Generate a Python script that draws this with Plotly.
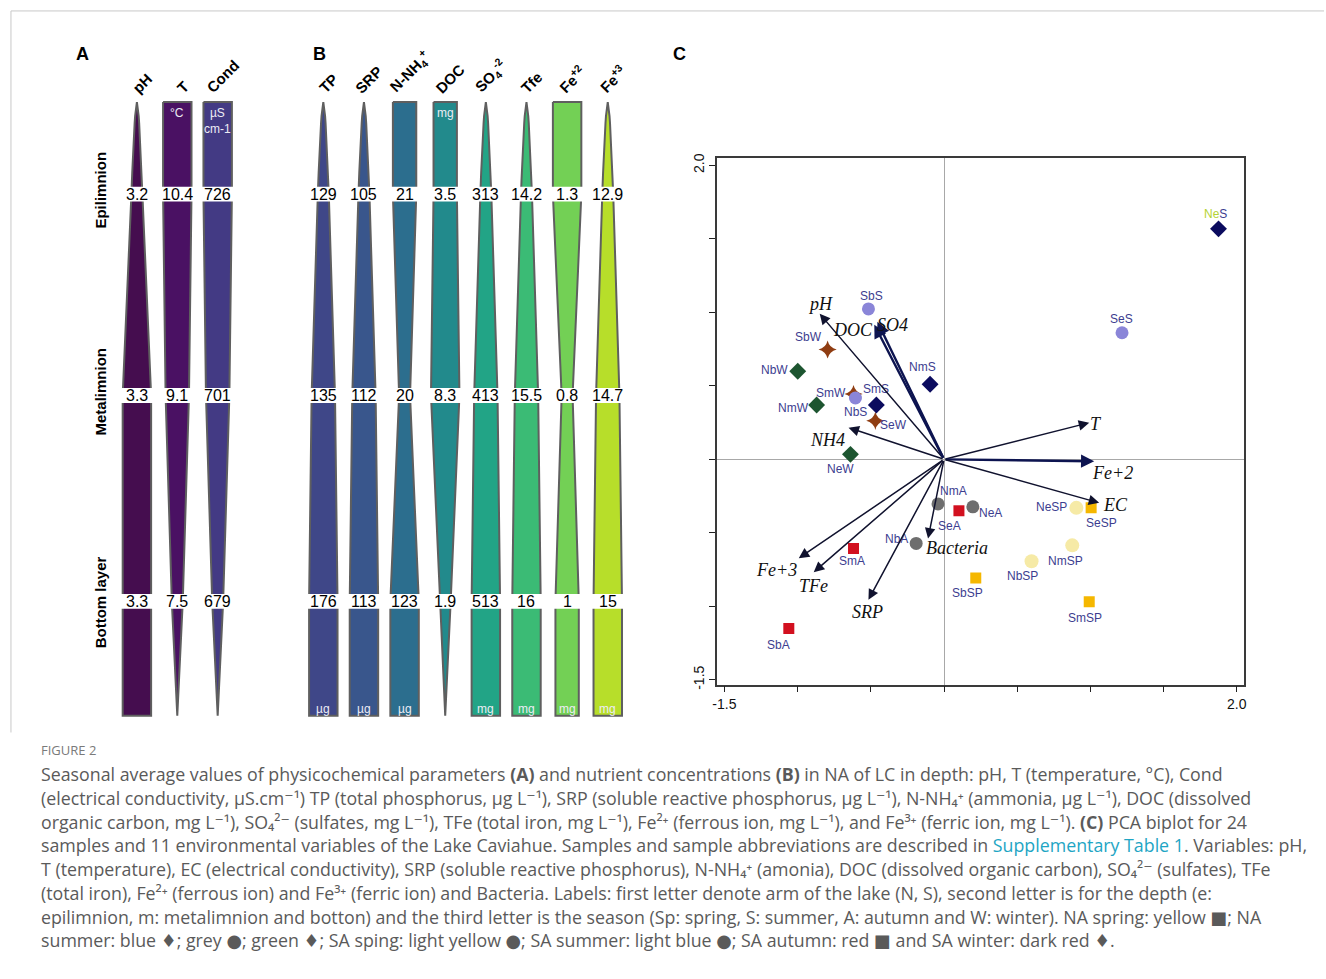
import plotly.graph_objects as go

W, H = 1326, 979

# ---------------- Panels A/B: seasonal averages by layer ----------------
layer_names = ["Epilimnion", "Metalimnion", "Bottom layer"]

ph_vals = [3.2, 3.3, 3.3]
temp_vals = [10.4, 9.1, 7.5]
cond_vals = [726, 701, 679]

tp_vals = [129, 135, 176]
srp_vals = [105, 112, 113]
nh4_vals = [21, 20, 123]
doc_vals = [3.5, 8.3, 1.9]
so4_vals = [313, 413, 513]
tfe_vals = [14.2, 15.5, 16]
fe2_vals = [1.3, 0.8, 1]
fe3_vals = [12.9, 14.7, 15]

phys_heads = ["pH", "T", "Cond"]
nutr_heads = ["TP", "SRP", "N-NH<sub>4</sub><sup>+</sup>", "DOC",
              "SO<sub>4</sub><sup>-2</sup>", "Tfe", "Fe<sup>+2</sup>", "Fe<sup>+3</sup>"]
phys_top_units = ["", "°C", "µS<br>cm-1"]
nutr_top_units = ["", "", "", "mg", "", "", "", ""]
nutr_bottom_units = ["µg", "µg", "µg", "", "mg", "mg", "mg", "mg"]

# ---------------- Panel C: PCA biplot ----------------
samples = ["NeS", "SeS", "SbS", "SbW", "NbW", "NmS", "SmW", "NbS", "SmS", "SeW", "NmW", "NeW",
           "NmA", "SeA", "NeA", "NbA", "SmA", "SbA", "SbSP", "NbSP", "NmSP", "NeSP", "SeSP", "SmSP"]
pc1 = [1.875, 1.216, -0.516, -0.795, -0.999, -0.095, -0.618, -0.605, -0.462, -0.469, -0.870, -0.639,
       -0.041, 0.102, 0.197, -0.190, -0.618, -1.060, 0.217, 0.598, 0.876, 0.904, 1.005, 0.992]
pc2 = [1.568, 0.861, 1.023, 0.747, 0.599, 0.511, 0.444, 0.417, 0.370, 0.262, 0.370, 0.034,
       -0.303, -0.350, -0.323, -0.572, -0.606, -1.151, -0.808, -0.693, -0.585, -0.330, -0.330, -0.969]
sample_group = ["NA summer", "SA summer", "SA summer", "SA winter", "NA winter", "NA summer",
                "SA winter", "SA summer", "NA summer", "SA winter", "NA winter", "NA winter",
                "NA autumn", "SA autumn", "NA autumn", "NA autumn", "SA autumn", "SA autumn",
                "NA spring", "SA spring", "SA spring", "SA spring", "NA spring", "NA spring"]

var_names = ["pH", "DOC", "SO4", "NH4", "T", "Fe+2", "EC", "Bacteria", "Fe+3", "TFe", "SRP"]
var_pc1 = [-0.849, -0.476, -0.455, -0.652, 0.992, 1.026, 1.060, -0.109, -0.992, -0.890, -0.516]
var_pc2 = [0.990, 0.916, 0.936, 0.215, 0.249, -0.013, -0.296, -0.539, -0.673, -0.768, -0.956]

# ---------------- styles ----------------
SANS = "Liberation Sans, Arial, sans-serif"
SERIF = "Liberation Serif, Times New Roman, serif"
CAPTION_FONT = "Open Sans, DejaVu Sans, sans-serif"
phys_colors = ["#450d4f", "#4a1163", "#433a84"]
nutr_colors = ["#3f4788", "#39568c", "#2c6e8e", "#228a8c", "#22a486", "#3bbb75", "#73d055", "#b7de2a"]
outline = "#5f5f5f"

group_style = {
    "SA winter": dict(color="#8f3d12", symbol="star-diamond", size=13),
    "NA winter": dict(color="#1d5530", symbol="diamond", size=13),
    "NA summer": dict(color="#0b0b5e", symbol="diamond", size=13),
    "SA summer": dict(color="#8a85d8", symbol="circle", size=13),
    "NA autumn": dict(color="#6e6e6e", symbol="circle", size=13),
    "SA autumn": dict(color="#d2101f", symbol="square", size=11),
    "SA spring": dict(color="#f6eaa6", symbol="circle", size=14),
    "NA spring": dict(color="#f5b700", symbol="square", size=11),
}
sample_label_shift = {
    "NeS": (-3, 15), "SeS": (-1, 14), "SbS": (3, 13), "SbW": (-19, 13), "NbW": (-23, 1),
    "NmS": (-8, 17), "SmW": (-23, 1), "NbS": (0, -14), "SmS": (0, 16), "SeW": (18, -4),
    "NmW": (-23, -3), "NeW": (-10, -15), "NmA": (15, 13), "SeA": (-9, -15), "NeA": (18, -6),
    "NbA": (-20, 4), "SmA": (-2, -13), "SbA": (-10, -16), "SbSP": (-8, -15), "NbSP": (-9, -15),
    "NmSP": (-7, -16), "NeSP": (-25, 1), "SeSP": (10, -15), "SmSP": (-4, -16),
}
var_label_shift = {
    "pH": (1, 10), "DOC": (-21, -5), "SO4": (15, -3), "NH4": (-21, -12), "T": (7, -1),
    "Fe+2": (18, -12), "EC": (16, -2), "Bacteria": (29, -9), "Fe+3": (-22, -12),
    "TFe": (0, -14), "SRP": (-1, -12),
}
thick_vars = {"DOC", "SO4", "Fe+2"}

fig = go.Figure()
annotations = []
shapes = []

# ---------------- depth profile columns (canvas axes x2/y2, pixel-like units) ----------------
y_top, y_end = 98, 718
y_rows = [191, 394.5, 602.5]
rank_width = [11, 23.5, 28.6]   # narrow / medium / wide by rank within a variable


def widths_from_values(vals):
    w = []
    for v in vals:
        greater = sum(1 for u in vals if u > v)
        w.append(rank_width[2 - greater])
    top = 0 if vals[0] == min(vals) and vals.count(min(vals)) == 1 else w[0]
    end = 0 if vals[2] == min(vals) and vals.count(min(vals)) == 1 else w[2]
    return [top] + w + [end]


def outline_path(cx, widths):
    ys = [y_top] + y_rows + [y_end]
    py, pw = [], []
    for k in range(4):
        y0, y1 = ys[k], ys[k + 1]
        w0, w1 = widths[k], widths[k + 1]
        curved = (k == 0 and w0 == 0)
        n = 14 if curved else 2
        for j in range(n):
            if k > 0 and j == 0:
                continue
            t = j / (n - 1)
            w = w1 * t ** 0.6 if curved else w0 + (w1 - w0) * t
            py.append(y0 + (y1 - y0) * t)
            pw.append(w)
    xs = [cx - w / 2 for w in pw] + [cx + w / 2 for w in reversed(pw)]
    yy = py + list(reversed(py))
    return xs + [xs[0]], yy + [yy[0]]


phys_sets = [ph_vals, temp_vals, cond_vals]
nutr_sets = [tp_vals, srp_vals, nh4_vals, doc_vals, so4_vals, tfe_vals, fe2_vals, fe3_vals]

columns = []
for i in range(3):
    columns.append(dict(cx=132.6 + i * 40.6, vals=phys_sets[i], head=phys_heads[i],
                        color=phys_colors[i], top=phys_top_units[i], bottom=""))
for i in range(8):
    columns.append(dict(cx=320 + i * 40.85, vals=nutr_sets[i], head=nutr_heads[i],
                        color=nutr_colors[i], top=nutr_top_units[i], bottom=nutr_bottom_units[i]))

for col in columns:
    xs, ys = outline_path(col["cx"], widths_from_values(col["vals"]))
    fig.add_trace(go.Scatter(x=xs, y=ys, xaxis="x2", yaxis="y2", mode="lines", fill="toself",
                             fillcolor=col["color"], line=dict(color=outline, width=2),
                             hoverinfo="skip", showlegend=False))
    for r, v in enumerate(col["vals"]):
        shapes.append(dict(type="rect", xref="x2", yref="y2", x0=col["cx"] - 21, x1=col["cx"] + 21,
                           y0=y_rows[r] - 7.5, y1=y_rows[r] + 7.5, fillcolor="white",
                           line=dict(width=0), layer="above"))
        annotations.append(dict(xref="x2", yref="y2", x=col["cx"], y=y_rows[r], text=f"{v:g}",
                                xanchor="center", yanchor="middle",
                                showarrow=False, font=dict(family=SANS, size=16, color="#000")))
    annotations.append(dict(xref="x2", yref="y2", x=col["cx"] + 5, y=95, text=f"<b>{col['head']}</b>",
                            textangle=-45, xanchor="center", yanchor="bottom", showarrow=False,
                            font=dict(family=SANS, size=15, color="#000")))
    if col["top"]:
        annotations.append(dict(xref="x2", yref="y2", x=col["cx"], y=100, text=col["top"],
                                xanchor="center", yanchor="top", showarrow=False,
                                font=dict(family=SANS, size=12, color="#ececf4")))
    if col["bottom"]:
        annotations.append(dict(xref="x2", yref="y2", x=col["cx"], y=711, text=col["bottom"],
                                xanchor="center", yanchor="middle", showarrow=False,
                                font=dict(family=SANS, size=12, color="#ececf4")))

row_label_y = [187, 390, 603]
for name, yy in zip(layer_names, row_label_y):
    annotations.append(dict(xref="x2", yref="y2", x=96, y=yy, text=f"<b>{name}</b>", textangle=-90,
                            xanchor="center", yanchor="middle",
                            showarrow=False, font=dict(family=SANS, size=15, color="#000")))

for letter, px in [("A", 78), ("B", 316), ("C", 678)]:
    annotations.append(dict(xref="paper", yref="paper", x=px / W, y=1 - 50 / H, text=f"<b>{letter}</b>",
                            xanchor="center", yanchor="middle",
                            showarrow=False, font=dict(family=SANS, size=18, color="#000")))

# ---------------- PCA samples ----------------
for g, st in group_style.items():
    idx = [k for k, sg in enumerate(sample_group) if sg == g]
    fig.add_trace(go.Scatter(x=[pc1[k] for k in idx], y=[pc2[k] for k in idx], mode="markers",
                             marker=dict(color=st["color"], symbol=st["symbol"], size=st["size"],
                                         line=dict(width=0)),
                             name=g, hoverinfo="text", text=[samples[k] for k in idx], showlegend=False))

for k, s in enumerate(samples):
    dx, dy = sample_label_shift[s]
    txt = s if s != "NeS" else "<span style='color:#b5d334'>Ne</span>S"
    annotations.append(dict(xref="x", yref="y", x=pc1[k], y=pc2[k], text=txt, xshift=dx, yshift=dy,
                            xanchor="center", yanchor="middle",
                            showarrow=False, font=dict(family=SANS, size=12, color="#3c3d8f")))

# ---------------- PCA variable vectors ----------------
for name, vx, vy in zip(var_names, var_pc1, var_pc2):
    thick = name in thick_vars
    annotations.append(dict(xref="x", yref="y", axref="x", ayref="y", x=vx, y=vy, ax=0, ay=0,
                            text="", showarrow=True, arrowhead=2, arrowsize=1.1 if thick else 1.4,
                            arrowwidth=2.4 if thick else 1.5,
                            arrowcolor="#0d1450" if thick else "#10122e", standoff=0))
    dx, dy = var_label_shift[name]
    annotations.append(dict(xref="x", yref="y", x=vx, y=vy, text=f"<i>{name}</i>", xshift=dx, yshift=dy,
                            xanchor="center", yanchor="middle",
                            showarrow=False, font=dict(family=SERIF, size=18, color="#111")))

# ---------------- caption ----------------
caption_lines = [
    "Seasonal average values of physicochemical parameters <b>(A)</b> and nutrient concentrations <b>(B)</b> in NA of LC in depth: pH, T (temperature, °C), Cond",
    "(electrical conductivity, µS.cm⁻¹) TP (total phosphorus, µg L⁻¹), SRP (soluble reactive phosphorus, µg L⁻¹), N-NH₄⁺ (ammonia, µg L⁻¹), DOC (dissolved",
    "organic carbon, mg L⁻¹), SO₄²⁻ (sulfates, mg L⁻¹), TFe (total iron, mg L⁻¹), Fe²⁺ (ferrous ion, mg L⁻¹), and Fe³⁺ (ferric ion, mg L⁻¹). <b>(C)</b> PCA biplot for 24",
    "samples and 11 environmental variables of the Lake Caviahue. Samples and sample abbreviations are described in <span style='color:#1ea5c4'>Supplementary Table 1</span>. Variables: pH,",
    "T (temperature), EC (electrical conductivity), SRP (soluble reactive phosphorus), N-NH₄⁺ (amonia), DOC (dissolved organic carbon), SO₄²⁻ (sulfates), TFe",
    "(total iron), Fe²⁺ (ferrous ion) and Fe³⁺ (ferric ion) and Bacteria. Labels: first letter denote arm of the lake (N, S), second letter is for the depth (e:",
    "epilimnion, m: metalimnion and botton) and the third letter is the season (Sp: spring, S: summer, A: autumn and W: winter). NA spring: yellow ■; NA",
    "summer: blue ♦; grey ●; green ♦; SA sping: light yellow ●; SA summer: light blue ●; SA autumn: red ■ and SA winter: dark red ♦.",
]
annotations.append(dict(xref="paper", yref="paper", x=34 / W, y=1 - 753 / H, text="FIGURE 2",
                        xanchor="left", yanchor="middle", showarrow=False,
                        font=dict(family=CAPTION_FONT, size=13, color="#7a7a7a")))
for j, line in enumerate(caption_lines):
    annotations.append(dict(xref="paper", yref="paper", x=34 / W, y=1 - (777 + 24 * j) / H, text=line,
                            xanchor="left", yanchor="middle", showarrow=False,
                            font=dict(family=CAPTION_FONT, size=17.8, color="#5a5a5a")))

# thin frame around the figure area
shapes.append(dict(type="line", xref="paper", yref="paper", x0=6 / W, x1=1, y0=1 - 6 / H, y1=1 - 6 / H,
                   line=dict(color="#c8c8c8", width=1)))
shapes.append(dict(type="line", xref="paper", yref="paper", x0=6 / W, x1=6 / W, y0=1 - 6 / H, y1=1 - 735 / H,
                   line=dict(color="#c8c8c8", width=1)))

tick_vals = [-1.5, -1.0, -0.5, 0.0, 0.5, 1.0, 1.5, 2.0]
tick_text = ["-1.5", "", "", "", "", "", "", "2.0"]
axis_common = dict(showline=True, mirror=True, linecolor="#3a3a3a", linewidth=1.5, ticks="outside",
                   ticklen=6, tickwidth=1.2, tickcolor="#222", tickvals=tick_vals, ticktext=tick_text,
                   showgrid=False, zeroline=True, zerolinecolor="#a8a8a8", zerolinewidth=1,
                   tickfont=dict(family=SANS, size=14, color="#111"), fixedrange=True)

fig.update_layout(
    width=W, height=H, margin=dict(l=0, r=0, t=0, b=0),
    paper_bgcolor="white", plot_bgcolor="white", showlegend=False,
    xaxis=dict(domain=[716 / W, 1246 / W], range=[-1.549, 2.052], **axis_common),
    yaxis=dict(domain=[1 - 686.7 / H, 1 - 155 / H], range=[-1.533, 2.047], tickangle=-90, **axis_common),
    xaxis2=dict(domain=[0, 660 / W], range=[0, 660], visible=False, fixedrange=True),
    yaxis2=dict(domain=[1 - 740 / H, 1], range=[740, 0], visible=False, fixedrange=True),
    annotations=annotations, shapes=shapes,
)

fig.write_html("out.html")
